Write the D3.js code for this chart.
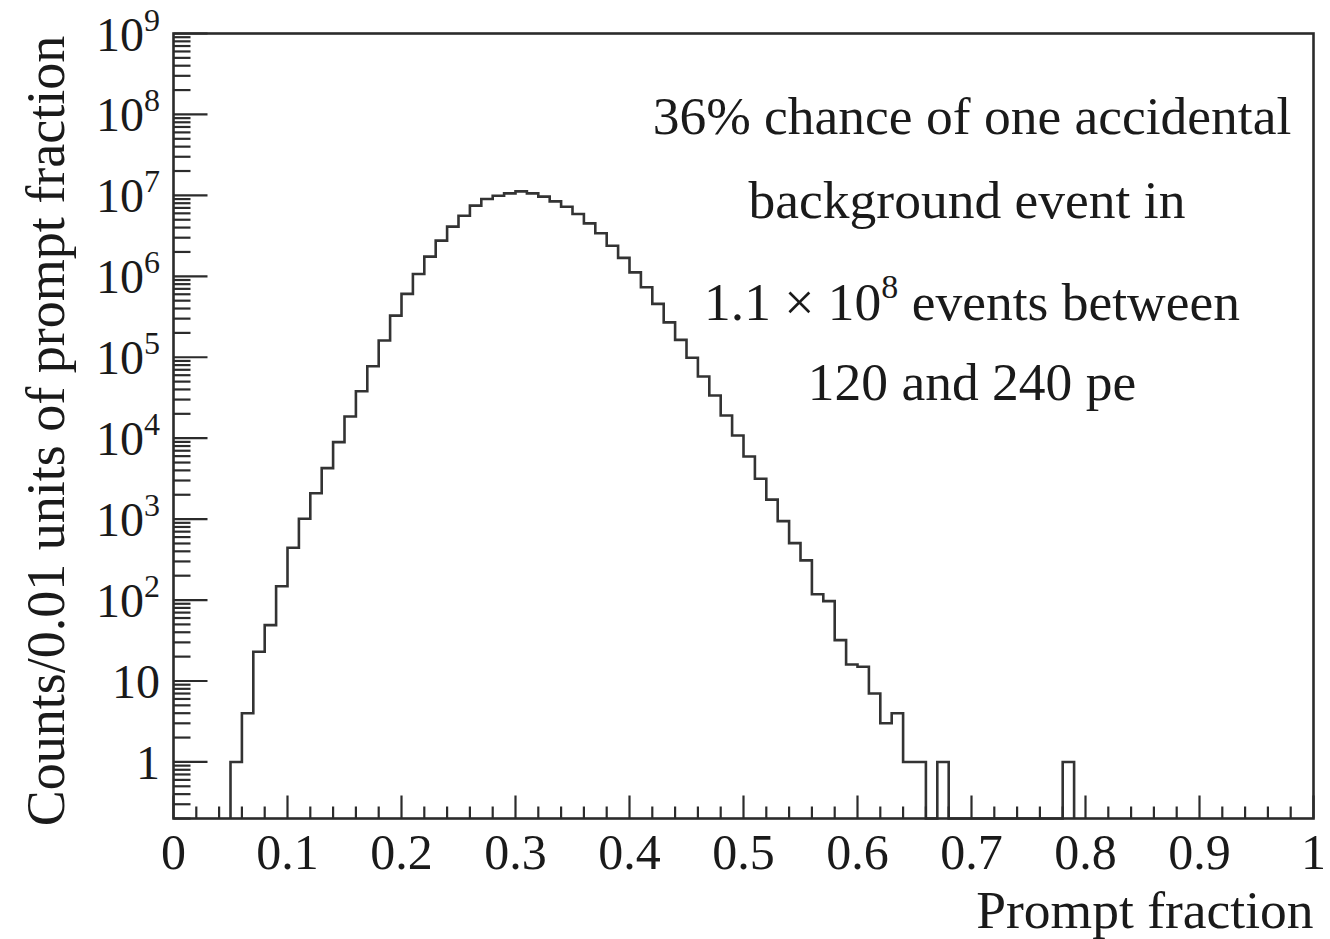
<!DOCTYPE html>
<html>
<head>
<meta charset="utf-8">
<script src="https://cdn.jsdelivr.net/npm/d3@7"></script>
<style>
  html, body { margin: 0; padding: 0; background: #fff; }
  svg { display: block; }
  text { font-family: "Liberation Serif", "DejaVu Serif", serif; fill: #1a1a1a; }
</style>
</head>
<body>
<svg id="chart" width="1330" height="939"></svg>
<script>
// ---- data ----
const binWidth = 0.01;
const firstBinLow = 0.05;
// counts per 0.01 bin, starting at prompt fraction 0.05
const counts = [
  1, 4, 23, 49, 148, 443, 1010, 2090, 4270, 8930,
  18500, 38000, 77400, 161000, 327000, 606000, 1070000, 1750000, 2760000, 4110000,
  5610000, 7460000, 9030000, 9910000, 10600000, 11200000, 10600000, 9640000, 8430000, 7250000,
  5890000, 4510000, 3400000, 2390000, 1690000, 1120000, 731000, 456000, 270000, 164000,
  98400, 57800, 33700, 19100, 10800, 5940, 3150, 1740, 944, 505,
  309, 118, 97, 32, 16, 15, 7, 3, 4, 1,
  1, 0, 1, 0, 0, 0, 0, 0, 0, 0,
  0, 0, 0, 1
];
const xTickValues = [0, 0.1, 0.2, 0.3, 0.4, 0.5, 0.6, 0.7, 0.8, 0.9, 1];
const xTickLabels = ["0", "0.1", "0.2", "0.3", "0.4", "0.5", "0.6", "0.7", "0.8", "0.9", "1"];
const yTickValues = [1, 10, 1e2, 1e3, 1e4, 1e5, 1e6, 1e7, 1e8, 1e9];
const yTickBase = ["1", "10", "10", "10", "10", "10", "10", "10", "10", "10"];
const yTickExp = ["", "", "2", "3", "4", "5", "6", "7", "8", "9"];
const annotationLines = ["36% chance of one accidental", "background event in", "events between", "120 and 240 pe"];

// ---- layout ----
const svg = d3.select("#chart");
const pLeft = 173.5, pRight = 1313.5, pTop = 33.5, pBottom = 818.5;
const x = d3.scaleLinear().domain([0, 1]).range([pLeft, pRight]);
const y = d3.scaleLog().domain([0.2, 1e9]).range([pBottom, pTop]);
const ink = "#2b2b2b";

// histogram outline
const pts = [];
counts.forEach((c, i) => {
  const lo = firstBinLow + i * binWidth, hi = lo + binWidth;
  const v = c > 0 ? c : 0.2;
  pts.push([x(lo), y(v)], [x(hi), y(v)]);
});
pts.unshift([x(firstBinLow), y(0.2)]);
pts.push([x(firstBinLow + counts.length * binWidth), y(0.2)]);
svg.append("path")
  .attr("d", d3.line()(pts))
  .attr("fill", "none").attr("stroke", "#333").attr("stroke-width", 2.6)
  .attr("stroke-linejoin", "miter");

// frame
svg.append("rect")
  .attr("x", pLeft).attr("y", pTop).attr("width", pRight - pLeft).attr("height", pBottom - pTop)
  .attr("fill", "none").attr("stroke", ink).attr("stroke-width", 2.6);

// x ticks
const xMinor = d3.range(0, 51).map(i => i * 0.02);
svg.append("g").selectAll("line").data(xMinor).join("line")
  .attr("x1", d => x(d)).attr("x2", d => x(d))
  .attr("y1", pBottom)
  .attr("y2", (d, i) => pBottom - (i % 5 === 0 ? 23 : 12))
  .attr("stroke", ink).attr("stroke-width", 2.2);
svg.append("g").selectAll("text").data(xTickValues).join("text")
  .attr("x", d => x(d)).attr("y", 869)
  .attr("text-anchor", "middle").attr("font-size", 50)
  .text((d, i) => xTickLabels[i]);

// y ticks
const yMinor = [];
for (let e = -1; e <= 8; e++) for (let k = 2; k <= 9; k++) {
  const v = k * Math.pow(10, e);
  if (v >= 0.2 && v <= 1e9) yMinor.push(v);
}
svg.append("g").selectAll("line").data(yMinor).join("line")
  .attr("x1", pLeft).attr("x2", pLeft + 17)
  .attr("y1", d => y(d)).attr("y2", d => y(d))
  .attr("stroke", ink).attr("stroke-width", 2.2);
svg.append("g").selectAll("line").data(yTickValues).join("line")
  .attr("x1", pLeft).attr("x2", pLeft + 34)
  .attr("y1", d => y(d)).attr("y2", d => y(d))
  .attr("stroke", ink).attr("stroke-width", 2.2);
const yl = svg.append("g").selectAll("text").data(yTickValues).join("text")
  .attr("x", 160).attr("y", d => y(d) + 17)
  .attr("text-anchor", "end").attr("font-size", 48);
yl.append("tspan").text((d, i) => yTickBase[i]);
yl.append("tspan").attr("font-size", 32).attr("dy", -20).text((d, i) => yTickExp[i]);

// axis titles
svg.append("text")
  .attr("x", pRight).attr("y", 928)
  .attr("text-anchor", "end").attr("font-size", 53.5)
  .text("Prompt fraction");
svg.append("text")
  .attr("transform", `translate(64, ${(pTop + pBottom) / 2 + 5}) rotate(-90)`)
  .attr("text-anchor", "middle").attr("font-size", 54)
  .text("Counts/0.01 units of prompt fraction");

// annotation
const cx = 972;
const fs = 53.5;
svg.append("text").attr("x", cx).attr("y", 134).attr("text-anchor", "middle")
  .attr("font-size", fs).text(annotationLines[0]);
svg.append("text").attr("x", cx - 5).attr("y", 218).attr("text-anchor", "middle")
  .attr("font-size", fs).text(annotationLines[1]);
const l3 = svg.append("text").attr("x", cx).attr("y", 320).attr("text-anchor", "middle")
  .attr("font-size", fs);
l3.append("tspan").text("1.1 × 10");
l3.append("tspan").attr("font-size", 34).attr("dy", -22).text("8");
l3.append("tspan").attr("dy", 22).text(" " + annotationLines[2]);
svg.append("text").attr("x", cx).attr("y", 400).attr("text-anchor", "middle")
  .attr("font-size", fs).text(annotationLines[3]);
</script>
</body>
</html>
